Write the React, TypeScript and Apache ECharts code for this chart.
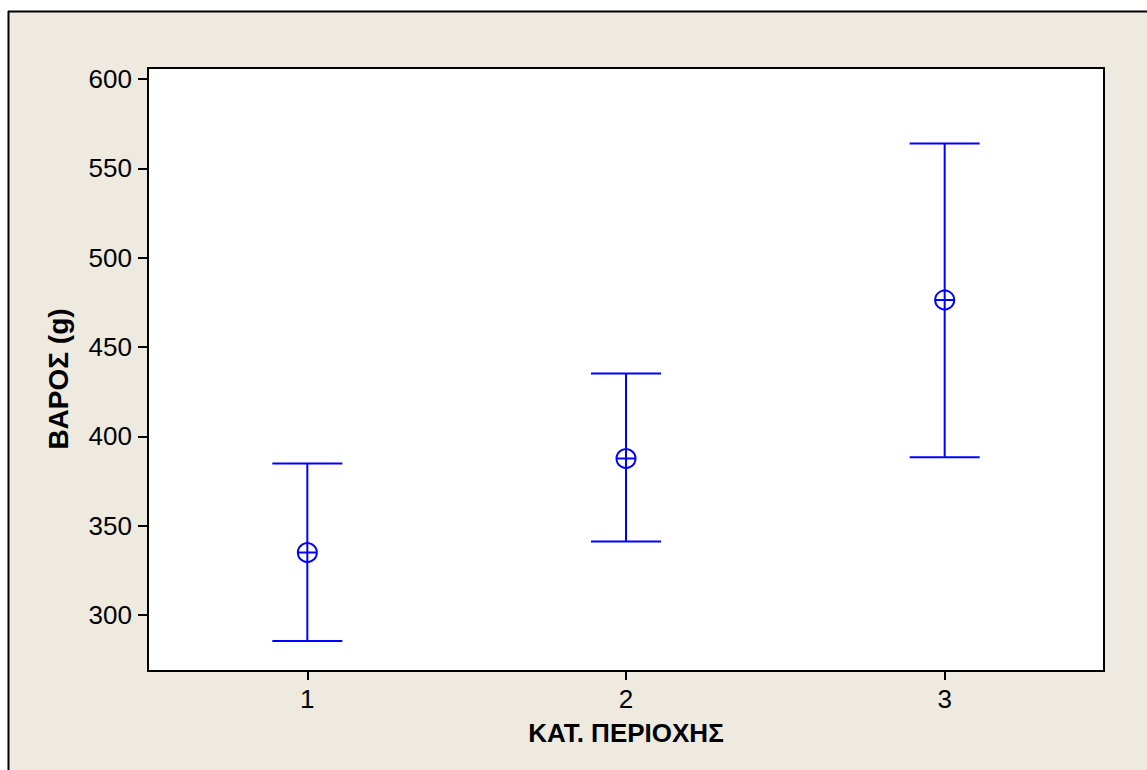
import React, { useEffect, useRef } from "react";
import * as echarts from "echarts";

const categories = ["1", "2", "3"];
const lows = [285.5, 341.2, 388.3];
const highs = [384.8, 435.1, 563.8];
const means = [335.0, 387.6, 476.3];
const yTicks = [300, 350, 400, 450, 500, 550, 600];
const xTitle = "ΚΑΤ. ΠΕΡΙΟΧΗΣ";
const yTitle = "ΒΑΡΟΣ (g)";

export default function App() {
  const ref = useRef<HTMLDivElement>(null);
  useEffect(() => {
    if (!ref.current) return;
    const chart = echarts.init(ref.current, null, { renderer: "svg" });
    const data = categories.map((_, i) => [i, lows[i], highs[i], means[i]]);
    const blue = "#0000FF";
    const font = "Liberation Sans, Arial, sans-serif";
    chart.setOption({
      animation: false,
      backgroundColor: "#EEEAE0",
      textStyle: { fontFamily: font },
      graphic: [
        { type: "rect", shape: { x: 0, y: 0, width: 1147, height: 11 }, style: { fill: "#fff" }, silent: true },
        { type: "rect", shape: { x: 0, y: 0, width: 8, height: 770 }, style: { fill: "#fff" }, silent: true },
        { type: "line", shape: { x1: 8, y1: 11.5, x2: 1147, y2: 11.5 }, style: { stroke: "#000", lineWidth: 2 }, silent: true },
        { type: "line", shape: { x1: 8.5, y1: 11, x2: 8.5, y2: 770 }, style: { stroke: "#000", lineWidth: 2 }, silent: true },
        {
          type: "text",
          x: 58,
          y: 379,
          rotation: Math.PI / 2,
          style: {
            text: yTitle,
            fontSize: 28,
            fontWeight: "bold",
            fontFamily: font,
            fill: "#000",
            align: "center",
            verticalAlign: "middle",
          },
          silent: true,
        },
      ],
      grid: {
        left: 148,
        top: 68,
        right: 43,
        bottom: 99,
        show: true,
        backgroundColor: "#fff",
        borderColor: "#000",
        borderWidth: 2,
      },
      xAxis: {
        type: "category",
        data: categories,
        boundaryGap: true,
        name: xTitle,
        nameLocation: "middle",
        nameGap: 49,
        nameTextStyle: { fontSize: 26, fontWeight: "bold", color: "#000" },
        axisLine: { show: true, lineStyle: { color: "#000", width: 2 } },
        axisTick: { show: true, alignWithLabel: true, length: 9, lineStyle: { color: "#000", width: 2 } },
        axisLabel: { fontSize: 26, color: "#000", margin: 15 },
        splitLine: { show: false },
      },
      yAxis: {
        type: "value",
        min: 268.7,
        max: 606.1,
        axisLine: { show: true, lineStyle: { color: "#000", width: 2 } },
        axisTick: { show: true, length: 10, customValues: yTicks, lineStyle: { color: "#000", width: 2 } },
        axisLabel: { fontSize: 26, color: "#000", margin: 16, customValues: yTicks },
        splitLine: { show: false },
      },
      series: [
        {
          type: "custom",
          data,
          renderItem: (params: any, api: any) => {
            const i = api.value(0);
            const lo = api.coord([i, api.value(1)]);
            const hi = api.coord([i, api.value(2)]);
            const m = api.coord([i, api.value(3)]);
            const x = lo[0];
            const hw = 35;
            const r = 9.5;
            const st = { stroke: blue, lineWidth: 2, fill: "none" };
            return {
              type: "group",
              children: [
                { type: "line", shape: { x1: x, y1: hi[1], x2: x, y2: lo[1] }, style: st },
                { type: "line", shape: { x1: x - hw, y1: hi[1], x2: x + hw, y2: hi[1] }, style: st },
                { type: "line", shape: { x1: x - hw, y1: lo[1], x2: x + hw, y2: lo[1] }, style: st },
                { type: "circle", shape: { cx: x, cy: m[1], r }, style: { stroke: blue, lineWidth: 2, fill: "#fff" } },
                { type: "line", shape: { x1: x - r, y1: m[1], x2: x + r, y2: m[1] }, style: st },
                { type: "line", shape: { x1: x, y1: m[1] - r, x2: x, y2: m[1] + r }, style: st },
              ],
            };
          },
        },
      ],
    });
    return () => chart.dispose();
  }, []);
  return (
    <div
      ref={ref}
      style={{ position: "fixed", left: 0, top: 0, width: 1147, height: 770 }}
    />
  );
}
